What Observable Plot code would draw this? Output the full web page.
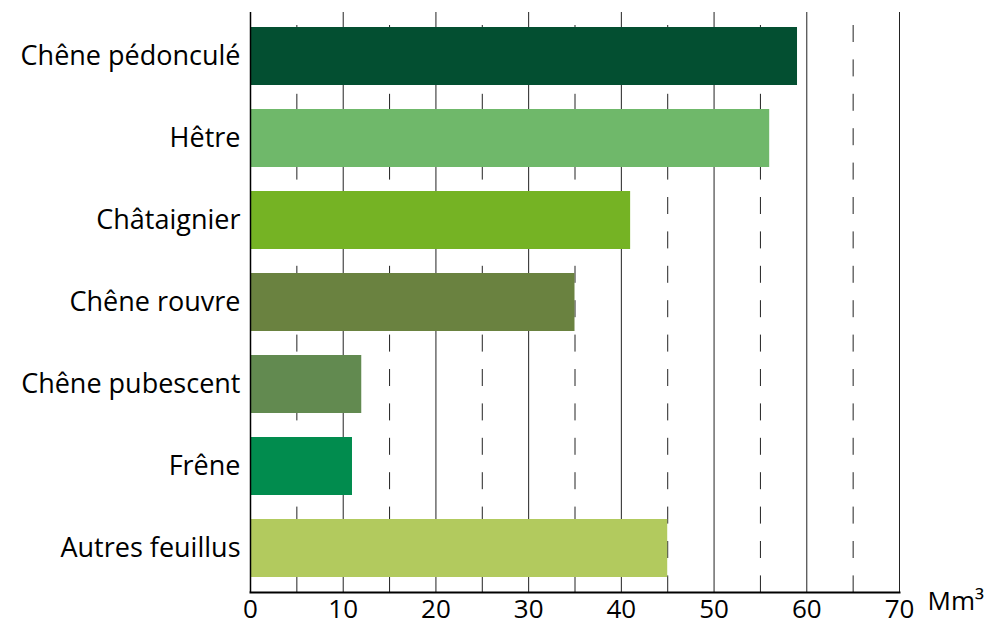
<!DOCTYPE html>
<html>
<head>
<meta charset="utf-8">
<script src="https://cdn.jsdelivr.net/npm/d3@7"></script>
<script src="https://cdn.jsdelivr.net/npm/@observablehq/plot@0.6"></script>
<style>
  html, body { margin: 0; padding: 0; background: #fff; }
  svg { display: block; }
</style>
</head>
<body>
<div id="chart"></div>
<script>
const species = ["Chêne pédonculé", "Hêtre", "Châtaignier", "Chêne rouvre", "Chêne pubescent", "Frêne", "Autres feuillus"];
const volumes = [59, 56, 41, 35, 12, 11, 45];
const colors = ["#034f31", "#6fb86a", "#75b324", "#6a8240", "#628a50", "#018c4e", "#b2ca5e"];
const majorTicks = [0, 10, 20, 30, 40, 50, 60, 70];
const minorTicks = [5, 15, 25, 35, 45, 55, 65];
const unitLabel = "Mm³";

const data = species.map((s, i) => ({species: s, volume: volumes[i], color: colors[i]}));

const chart = Plot.plot({
  width: 990,
  height: 628,
  marginLeft: 250,
  marginRight: 91,
  marginTop: 12,
  marginBottom: 36,
  style: {fontFamily: "'Open Sans', sans-serif", background: "#fff"},
  x: {domain: [0, 70], ticks: majorTicks},
  y: {domain: species, paddingInner: 0.29, paddingOuter: 0.145},
  marks: [
    Plot.ruleX(majorTicks.slice(1), {stroke: "#222", strokeWidth: 1}),
    Plot.ruleX(minorTicks, {stroke: "#222", strokeWidth: 1, strokeDasharray: "17,17.4", strokeDashoffset: 21.4}),
    Plot.barX(data, {x: "volume", y: "species", fill: "color"}),
    Plot.ruleX([0], {stroke: "#000", strokeWidth: 1.5}),
    Plot.frame({anchor: "bottom", stroke: "#000", strokeWidth: 2}),
    Plot.axisX({ticks: majorTicks, tickSize: 0, tickPadding: 7, fontSize: 26, color: "#000", label: null}),
    Plot.axisY({tickSize: 0, tickPadding: 10, fontSize: 27, color: "#000", label: null}),
    Plot.text([unitLabel], {frameAnchor: "bottom-right", text: d => d, textAnchor: "start", dx: 28, dy: 17, fontSize: 26, fill: "#000"})
  ]
});
document.getElementById("chart").appendChild(chart);
</script>
</body>
</html>
